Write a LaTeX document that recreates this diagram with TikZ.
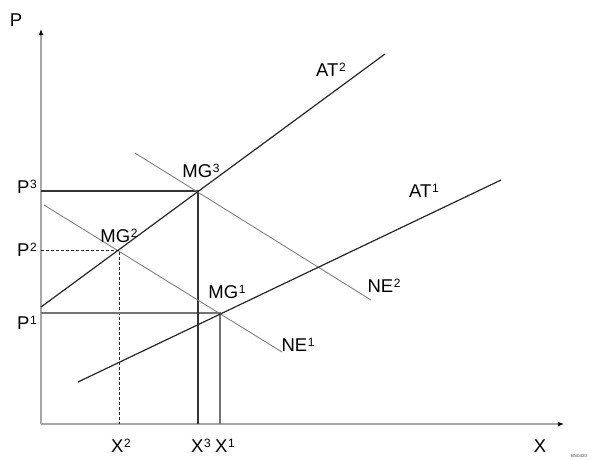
\documentclass[tikz,border=0pt]{standalone}
\usepackage{fontspec}
\setmainfont{Liberation Sans}
\usetikzlibrary{arrows.meta}
\newcommand\sups[1]{\kern0.6pt\raisebox{4.5pt}{\fontsize{12}{12}\selectfont #1}}
\begin{document}
\begin{tikzpicture}[x=1pt,y=-1pt,
  axisline/.style={draw=black!35,line width=1.4pt},
  atline/.style={draw=black!85,line width=1.2pt},
  neline/.style={draw=black!50,line width=0.9pt},
  darkguide/.style={draw=black!80,line width=1.1pt},
  greyguide/.style={draw=black!55,line width=1.1pt},
  dashguide/.style={draw=black!85,line width=0.9pt,dash pattern=on 3pt off 2pt},
  lbl/.style={inner sep=0pt,font=\fontsize{18.5}{18.5}\selectfont},
  tiny/.style={inner sep=0pt,font=\fontsize{4.5}{4.5}\selectfont,text=black!70}]
\useasboundingbox (0,0) rectangle (600,459);
% key points
\coordinate (O) at (41,424);
\coordinate (Ptop) at (41,29);
\coordinate (Xend) at (564,424);
\coordinate (MGone) at (220,313);
\coordinate (MGtwo) at (119,250);
\coordinate (MGthree) at (198,191);
\coordinate (ATtwoS) at (41,307);
\coordinate (ATtwoE) at (385,54);
\coordinate (AToneS) at (78,382);
\coordinate (AToneE) at (501,180);
\coordinate (NEoneS) at (44,205);
\coordinate (NEoneE) at (282,352);
\coordinate (NEtwoS) at (135,153);
\coordinate (NEtwoE) at (371,300);
\coordinate (Pthree) at (41,191);
\coordinate (Ptwo) at (41,250);
\coordinate (Pone) at (41,313);
\coordinate (Xthree) at (198,424);
\coordinate (Xtwo) at (119,424);
\coordinate (Xone) at (221,424);
% axes
\draw[axisline,-{Latex[length=6pt,width=5pt,black]}] (O) -- (Ptop);
\draw[axisline,-{Latex[length=6pt,width=5pt,black]}] (O) -- (Xend);
% guide lines
\draw[dashguide] (Ptwo) -- (MGtwo) -- (Xtwo);
\draw[greyguide] (Pone) -- (MGone) -- (MGone |- Xone);
\draw[darkguide] (Pthree) -- (MGthree) -- (Xthree);
% demand-like lines
\draw[neline] (NEoneS) -- (NEoneE);
\draw[neline] (NEtwoS) -- (NEtwoE);
% supply-like lines
\draw[atline] (ATtwoS) -- (ATtwoE);
\draw[atline] (AToneS) -- (AToneE);
% labels
\node[lbl] (lP) at (16,20) {P};
\node[lbl] (lP3) at (27,187) {P\sups{3}};
\node[lbl] (lP2) at (27,250) {P\sups{2}};
\node[lbl] (lP1) at (27,323) {P\sups{1}};
\node[lbl] (lMG3) at (201,171) {MG\sups{3}};
\node[lbl] (lMG2) at (119,236) {MG\sups{2}};
\node[lbl] (lMG1) at (227,292) {MG\sups{1}};
\node[lbl] (lNE1) at (298,345) {NE\sups{1}};
\node[lbl] (lNE2) at (384,286) {NE\sups{2}};
\node[lbl] (lAT2) at (331,70) {AT\sups{2}};
\node[lbl] (lAT1) at (424,191) {AT\sups{1}};
\node[lbl] (lX2) at (121,446) {X\sups{2}};
\node[lbl] (lX3) at (201,446) {X\sups{3}};
\node[lbl] (lX1) at (225,446) {X\sups{1}};
\node[lbl] (lX) at (540,446) {X};
\node[tiny,anchor=west] (code) at (571,456) {BS0420};
\end{tikzpicture}
\end{document}
